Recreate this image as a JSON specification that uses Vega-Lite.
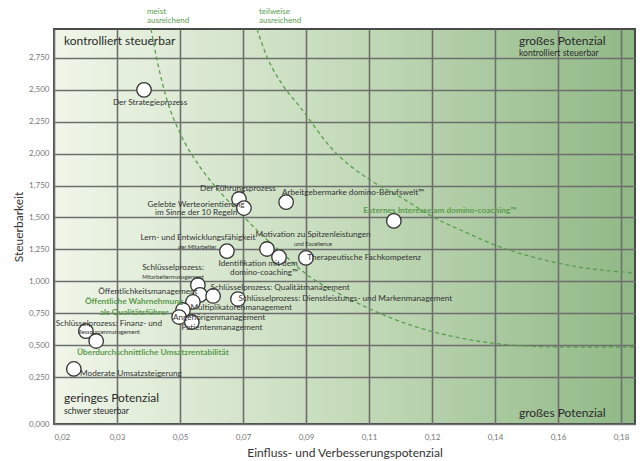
{
  "$schema": "https://vega.github.io/schema/vega-lite/v6.json",
  "width": 581,
  "height": 395,
  "autosize": {"type": "none"},
  "padding": {"left": 54, "top": 29, "right": 7, "bottom": 37},
  "background": "white",
  "config": {
    "font": "Lato",
    "view": {
      "fill": {"gradient": "linear", "x1": 0, "y1": 0, "x2": 1, "y2": 0,
        "stops": [{"offset": 0, "color": "#f0f6e9"}, {"offset": 0.5, "color": "#c5dbbb"}, {"offset": 1, "color": "#90b886"}]},
      "stroke": "#4a4a4a",
      "strokeWidth": 2
    }
  },
  "datasets": {
    "points": [
      {"name": "Der Strategieprozess", "x": 0.0454, "y": 2.50},
      {"name": "Der Führungsprozess", "x": 0.0722, "y": 1.645},
      {"name": "Gelebte Werteorientierung", "x": 0.0736, "y": 1.574},
      {"name": "Arbeitgebermarke domino-Berufswelt", "x": 0.0855, "y": 1.621},
      {"name": "Externes Interesse am domino-coaching", "x": 0.1159, "y": 1.473},
      {"name": "Lern- und Entwicklungsfähigkeit", "x": 0.0688, "y": 1.237},
      {"name": "Motivation zu Spitzenleistungen", "x": 0.0801, "y": 1.253},
      {"name": "Identifikation mit dem domino-coaching", "x": 0.0835, "y": 1.19},
      {"name": "Therapeutische Fachkompetenz", "x": 0.0911, "y": 1.183},
      {"name": "Schlüsselprozess: Mitarbeitermanagement", "x": 0.0606, "y": 0.971},
      {"name": "Öffentlichkeitsmanagement", "x": 0.0612, "y": 0.893},
      {"name": "Schlüsselprozess: Qualitätmanagement", "x": 0.0649, "y": 0.885},
      {"name": "Schlüsselprozess: Dienstleistungs- und Markenmanagement", "x": 0.0719, "y": 0.861},
      {"name": "Öffentliche Wahrnehmung als Qualitätsführer", "x": 0.0592, "y": 0.838},
      {"name": "Multiplikatorenmanagement", "x": 0.0564, "y": 0.775},
      {"name": "Angehörigenmanagement", "x": 0.0553, "y": 0.72},
      {"name": "Patientenmanagement", "x": 0.0589, "y": 0.681},
      {"name": "Schlüsselprozess: Finanz- und Ressourcenmanagement", "x": 0.0290, "y": 0.61},
      {"name": "Überdurchschnittliche Umsatzrentabilität", "x": 0.0319, "y": 0.532},
      {"name": "Moderate Umsatzsteigerung", "x": 0.0256, "y": 0.313}
    ],
    "labels": [
      {"text": "Der Strategieprozess", "kind": "normal", "x": 0.0471, "y": 2.397},
      {"text": "Der Führungsprozess", "kind": "normal", "x": 0.0719, "y": 1.723},
      {"text": "Gelebte Werteorientierung", "kind": "normal", "x": 0.0601, "y": 1.600},
      {"text": "im Sinne der 10 Regeln", "kind": "normal", "x": 0.0601, "y": 1.533},
      {"text": "Arbeitgebermarke domino-Berufswelt™", "kind": "normal", "x": 0.1044, "y": 1.692},
      {"text": "Lern- und Entwicklungsfähigkeit", "kind": "normal", "x": 0.0606, "y": 1.336},
      {"text": "der Mitarbeiter", "kind": "small", "x": 0.0604, "y": 1.265},
      {"text": "Motivation zu Spitzenleistungen", "kind": "normal", "x": 0.0931, "y": 1.360},
      {"text": "und Excellence", "kind": "small", "x": 0.0931, "y": 1.294},
      {"text": "Identifikation mit dem", "kind": "normal", "x": 0.0776, "y": 1.138},
      {"text": "domino-coaching™", "kind": "normal", "x": 0.0793, "y": 1.063},
      {"text": "Therapeutische Fachkompetenz", "kind": "normal", "x": 0.1075, "y": 1.183},
      {"text": "Schlüsselprozess:", "kind": "normal", "x": 0.0536, "y": 1.101},
      {"text": "Mitarbeitermanagement", "kind": "small", "x": 0.0536, "y": 1.036},
      {"text": "Öffentlichkeitsmanagement", "kind": "normal", "x": 0.0465, "y": 0.916},
      {"text": "Schlüsselprozess: Qualitätmanagement", "kind": "normal", "x": 0.0838, "y": 0.9475},
      {"text": "Schlüsselprozess: Dienstleistungs- und Markenmanagement", "kind": "normal", "x": 0.1022, "y": 0.861},
      {"text": "Multiplikatorenmanagement", "kind": "normal", "x": 0.0728, "y": 0.788},
      {"text": "Angehörigenmanagement", "kind": "normal", "x": 0.0666, "y": 0.714},
      {"text": "Patientenmanagement", "kind": "normal", "x": 0.0674, "y": 0.632},
      {"text": "Schlüsselprozess: Finanz- und", "kind": "normal", "x": 0.0355, "y": 0.669},
      {"text": "Ressourcenmanagement", "kind": "small", "x": 0.0355, "y": 0.600},
      {"text": "Moderate Umsatzsteigerung", "kind": "normal", "x": 0.0417, "y": 0.2735},
      {"text": "Externes Interesse am domino-coaching™", "kind": "green", "x": 0.1289, "y": 1.551},
      {"text": "Öffentliche Wahrnehmung", "kind": "green", "x": 0.0426, "y": 0.834},
      {"text": "als Qualitätsführer", "kind": "green", "x": 0.0426, "y": 0.755},
      {"text": "Überdurchschnittliche Umsatzrentabilität", "kind": "green", "x": 0.0479, "y": 0.438}
    ],
    "quadrants": [
      {"text": "kontrolliert steuerbar", "kind": "big", "x": 0.02282, "y": 2.880},
      {"text": "großes Potenzial", "kind": "big", "x": 0.1512, "y": 2.882},
      {"text": "kontrolliert steuerbar", "kind": "small", "x": 0.1512, "y": 2.790},
      {"text": "geringes Potenzial", "kind": "big", "x": 0.02282, "y": 0.082},
      {"text": "schwer steuerbar", "kind": "small", "x": 0.02282, "y": -0.020},
      {"text": "großes Potenzial", "kind": "big", "x": 0.1512, "y": -0.032}
    ],
    "curvetitles": [
      {"text": "meist", "x": 0.04624, "y": 3.111},
      {"text": "ausreichend", "x": 0.04624, "y": 3.040},
      {"text": "teilweise", "x": 0.07785, "y": 3.111},
      {"text": "ausreichend", "x": 0.07785, "y": 3.040}
    ],
    "curves": [
      {"curve": "meist ausreichend", "x": 0.04737, "y": 2.977},
      {"curve": "meist ausreichend", "x": 0.04907, "y": 2.734},
      {"curve": "meist ausreichend", "x": 0.05189, "y": 2.421},
      {"curve": "meist ausreichend", "x": 0.05556, "y": 2.162},
      {"curve": "meist ausreichend", "x": 0.06120, "y": 1.896},
      {"curve": "meist ausreichend", "x": 0.06684, "y": 1.700},
      {"curve": "meist ausreichend", "x": 0.07277, "y": 1.527},
      {"curve": "meist ausreichend", "x": 0.07870, "y": 1.363},
      {"curve": "meist ausreichend", "x": 0.08434, "y": 1.222},
      {"curve": "meist ausreichend", "x": 0.09224, "y": 1.034},
      {"curve": "meist ausreichend", "x": 0.10071, "y": 0.900},
      {"curve": "meist ausreichend", "x": 0.10917, "y": 0.783},
      {"curve": "meist ausreichend", "x": 0.12046, "y": 0.658},
      {"curve": "meist ausreichend", "x": 0.13457, "y": 0.556},
      {"curve": "meist ausreichend", "x": 0.14868, "y": 0.501},
      {"curve": "meist ausreichend", "x": 0.16279, "y": 0.485},
      {"curve": "meist ausreichend", "x": 0.18367, "y": 0.485},
      {"curve": "teilweise ausreichend", "x": 0.07728, "y": 2.977},
      {"curve": "teilweise ausreichend", "x": 0.08011, "y": 2.758},
      {"curve": "teilweise ausreichend", "x": 0.08434, "y": 2.546},
      {"curve": "teilweise ausreichend", "x": 0.08942, "y": 2.366},
      {"curve": "teilweise ausreichend", "x": 0.09873, "y": 2.029},
      {"curve": "teilweise ausreichend", "x": 0.10917, "y": 1.794},
      {"curve": "teilweise ausreichend", "x": 0.11764, "y": 1.661},
      {"curve": "teilweise ausreichend", "x": 0.12695, "y": 1.504},
      {"curve": "teilweise ausreichend", "x": 0.13654, "y": 1.379},
      {"curve": "teilweise ausreichend", "x": 0.14586, "y": 1.269},
      {"curve": "teilweise ausreichend", "x": 0.15517, "y": 1.190},
      {"curve": "teilweise ausreichend", "x": 0.16476, "y": 1.128},
      {"curve": "teilweise ausreichend", "x": 0.18367, "y": 1.065}
    ]
  },
  "encoding": {
    "x": {
      "field": "x", "type": "quantitative",
      "scale": {"domain": [0.02, 0.18395], "nice": false, "zero": false},
      "axis": {
        "title": "Einfluss- und Verbesserungspotenzial",
        "values": [0.02, 0.0377778, 0.0555556, 0.0733333, 0.0911111, 0.1088889, 0.1266667, 0.1444444, 0.1622222, 0.18],
        "labelExpr": "['0,02','0,03','0,05','0,07','0,09','0,11','0,12','0,14','0,16','0,18'][round((datum.value-0.02)/0.0177778)]",
        "grid": true, "gridColor": "#6e6e6e", "gridWidth": 1.6, "gridOpacity": 1,
        "ticks": false, "domain": false,
        "labelFont": "Lato", "labelFontSize": 8, "labelColor": "#777777", "labelPadding": 9,
        "titleFont": "Lato", "titleFontSize": 12, "titleFontWeight": "normal", "titleColor": "#333333",
        "titleY": 28, "titleBaseline": "middle"
      }
    },
    "y": {
      "field": "y", "type": "quantitative",
      "scale": {"domain": [-0.1183, 2.977], "nice": false, "zero": false},
      "axis": {
        "title": "Steuerbarkeit",
        "values": [-0.1183, 0.25, 0.5, 0.75, 1.0, 1.25, 1.5, 1.75, 2.0, 2.25, 2.5, 2.75],
        "labelExpr": "datum.value < 0 ? '0,000' : replace(format(datum.value, '.3f'), '.', ',')",
        "grid": true, "gridColor": "#6e6e6e", "gridWidth": 1.6, "gridOpacity": 1,
        "ticks": false, "domain": false,
        "labelFont": "Lato", "labelFontSize": 8, "labelColor": "#777777", "labelPadding": 5,
        "titleFont": "Lato", "titleFontSize": 12, "titleFontWeight": "normal", "titleColor": "#333333",
        "titleX": -36, "titleY": 197.5, "titleAngle": -90, "titleAlign": "center", "titleBaseline": "middle"
      }
    }
  },
  "layer": [
    {
      "data": {"name": "curves"},
      "mark": {"type": "line", "interpolate": "monotone", "color": "#5b9e4f", "strokeWidth": 1.3, "strokeDash": [4, 3]},
      "encoding": {"detail": {"field": "curve"}}
    },
    {
      "data": {"name": "points"},
      "mark": {"type": "point", "shape": "circle", "filled": true, "fill": "white", "stroke": "#333333", "strokeWidth": 1.3, "size": 210, "opacity": 1}
    },
    {
      "data": {"name": "labels"},
      "transform": [{"filter": "datum.kind == 'normal'"}],
      "mark": {"type": "text", "align": "center", "baseline": "middle", "font": "Lato", "fontSize": 8.2, "color": "#333333"},
      "encoding": {"text": {"field": "text"}}
    },
    {
      "data": {"name": "labels"},
      "transform": [{"filter": "datum.kind == 'small'"}],
      "mark": {"type": "text", "align": "center", "baseline": "middle", "font": "Lato", "fontSize": 5.8, "color": "#333333"},
      "encoding": {"text": {"field": "text"}}
    },
    {
      "data": {"name": "labels"},
      "transform": [{"filter": "datum.kind == 'green'"}],
      "mark": {"type": "text", "align": "center", "baseline": "middle", "font": "Lato", "fontSize": 8.3, "fontWeight": "bold", "color": "#5a9a4c"},
      "encoding": {"text": {"field": "text"}}
    },
    {
      "data": {"name": "quadrants"},
      "transform": [{"filter": "datum.kind == 'big'"}],
      "mark": {"type": "text", "align": "left", "baseline": "middle", "font": "Lato", "fontSize": 12, "color": "#2a2a2a"},
      "encoding": {"text": {"field": "text"}}
    },
    {
      "data": {"name": "quadrants"},
      "transform": [{"filter": "datum.kind == 'small'"}],
      "mark": {"type": "text", "align": "left", "baseline": "middle", "font": "Lato", "fontSize": 8.6, "color": "#2a2a2a"},
      "encoding": {"text": {"field": "text"}}
    },
    {
      "data": {"name": "curvetitles"},
      "mark": {"type": "text", "align": "left", "baseline": "middle", "font": "Lato", "fontSize": 8, "color": "#5b9e4f"},
      "encoding": {"text": {"field": "text"}}
    }
  ]
}
